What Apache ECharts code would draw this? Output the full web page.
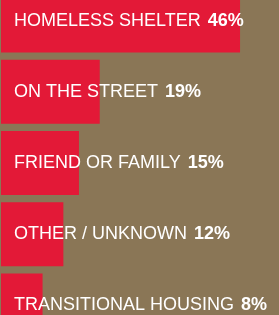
<!DOCTYPE html>
<html lang="en">
<head>
    <meta charset="UTF-8">
    <title>Where they stay</title>
    <script src="https://cdn.jsdelivr.net/npm/echarts@6/dist/echarts.min.js"></script>
    <style>
        *{
            margin: 0;
            padding: 0;
        }
        .container{
            width: 279px;
            height: 315px;
        }
    </style>
</head>
<body>
<div class="container"></div>
<script>
    // data
    let categories=['HOMELESS SHELTER','ON THE STREET','FRIEND OR FAMILY','OTHER / UNKNOWN','TRANSITIONAL HOUSING']
    let values=[46,19,15,12,8]

    let container=document.querySelector('.container')
    let echart=echarts.init(container)

    let option={
        backgroundColor:'#8a7656',
        grid:{
            left:1,
            right:0,
            top:-15,
            bottom:-26,
            containLabel:false,
            outerBoundsMode:'none'
        },
        xAxis:{
            type:'value',
            min:0,
            max:53.5,
            show:false
        },
        yAxis:{
            type:'category',
            data:categories,
            inverse:true,
            show:false
        },
        series:[{
            type:'bar',
            data:values,
            barWidth:64,
            itemStyle:{
                color:'#e31937'
            },
            label:{
                show:true,
                position:[13,'50%'],
                verticalAlign:'middle',
                formatter:function (p) {
                    return '{n|'+p.name+' }{v|'+p.value+'%}'
                },
                rich:{
                    n:{
                        color:'#fff',
                        fontFamily:'Liberation Sans',
                        fontSize:18
                    },
                    v:{
                        color:'#fff',
                        fontFamily:'Liberation Sans',
                        fontWeight:'bold',
                        fontSize:18,
                        padding:[0,0,0,2]
                    }
                }
            }
        }]
    }

    echart.setOption(option)
</script>
</body>
</html>
